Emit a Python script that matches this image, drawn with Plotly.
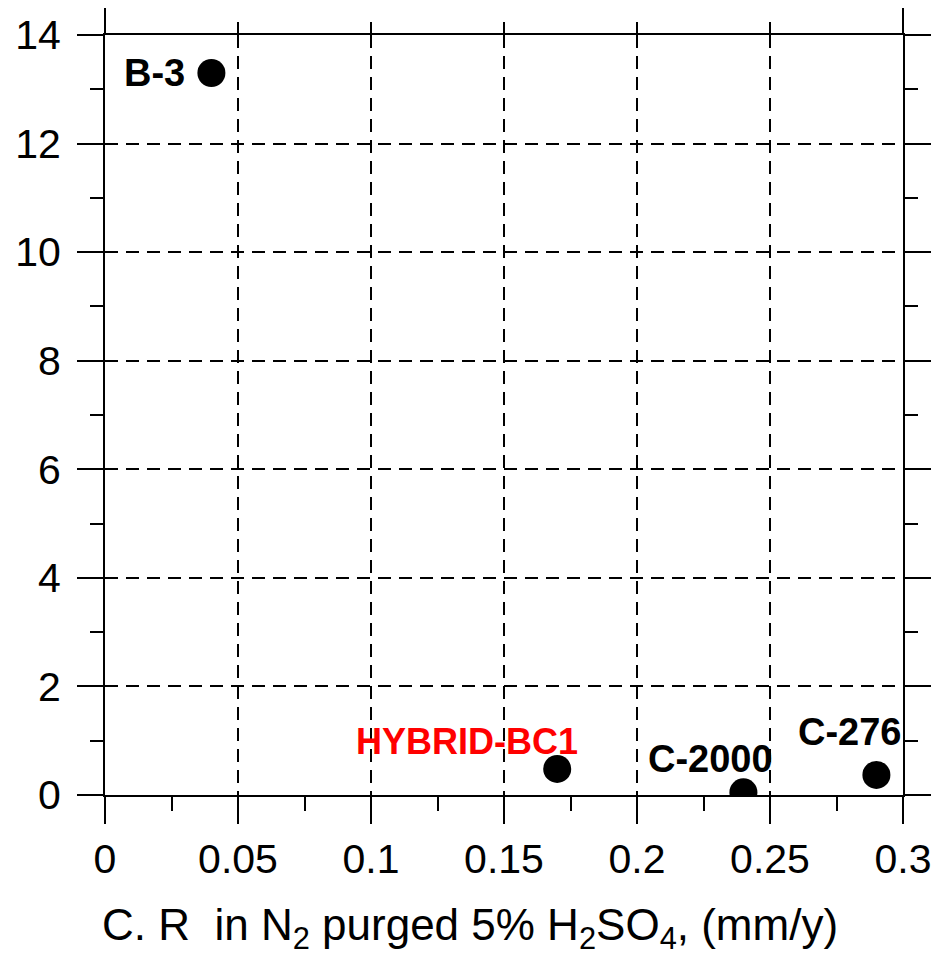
import plotly.graph_objects as go

# ---- data ----
alloys = ["B-3", "HYBRID-BC1", "C-2000", "C-276"]
corrosion_rate_n2 = [0.04, 0.17, 0.24, 0.29]   # x: C.R in N2 purged 5% H2SO4 (mm/y)
y_values = [13.3, 0.48, 0.05, 0.37]
x_tick_vals = [0, 0.05, 0.1, 0.15, 0.2, 0.25, 0.3]
x_tick_text = ["0", "0.05", "0.1", "0.15", "0.2", "0.25", "0.3"]
y_tick_vals = [0, 2, 4, 6, 8, 10, 12, 14]
y_tick_text = ["0", "2", "4", "6", "8", "10", "12", "14"]
x_title = "C. R  in N<sub>2</sub> purged 5% H<sub>2</sub>SO<sub>4</sub>, (mm/y)"

# ---- styles ----
FONT = "Liberation Sans, Arial, sans-serif"
label_style = {
    "B-3":        dict(color="black", size=38, xanchor="right",  xshift=-24, yshift=0),
    "HYBRID-BC1": dict(color="red",   size=36, xanchor="center", xshift=-90, yshift=27),
    "C-2000":     dict(color="black", size=38, xanchor="center", xshift=-33, yshift=33),
    "C-276":      dict(color="black", size=38, xanchor="center", xshift=-26, yshift=43),
}

fig = go.Figure()
fig.add_trace(go.Scatter(
    x=corrosion_rate_n2, y=y_values, mode="markers",
    marker=dict(size=28, color="black"),
    showlegend=False, hoverinfo="skip",
))
# invisible traces to anchor the top tick axes
fig.add_trace(go.Scatter(x=[x_tick_vals[0]], y=[y_tick_vals[0]], xaxis="x2",
                         mode="markers", marker=dict(opacity=0), showlegend=False, hoverinfo="skip"))
fig.add_trace(go.Scatter(x=[x_tick_vals[0]], y=[y_tick_vals[0]], xaxis="x3",
                         mode="markers", marker=dict(opacity=0), showlegend=False, hoverinfo="skip"))

for name, xv, yv in zip(alloys, corrosion_rate_n2, y_values):
    s = label_style[name]
    fig.add_annotation(
        x=xv, y=yv, xref="x", yref="y", text="<b>%s</b>" % name, showarrow=False,
        xanchor=s["xanchor"], yanchor="middle", xshift=s["xshift"], yshift=s["yshift"],
        font=dict(family=FONT, size=s["size"], color=s["color"]),
    )

fig.add_annotation(
    x=0.458, y=-0.175, xref="paper", yref="paper", text=x_title, showarrow=False,
    xanchor="center", yanchor="middle",
    font=dict(family=FONT, size=44, color="black"),
)

grid = dict(showgrid=True, gridcolor="black", gridwidth=1.6, griddash="13px,8px")

fig.update_layout(
    width=951, height=955, autosize=False,
    margin=dict(l=105, r=48, t=35, b=160, pad=0),
    paper_bgcolor="white", plot_bgcolor="white",
    font=dict(family=FONT, size=41, color="black"),
    xaxis=dict(
        range=[0, 0.3], tickvals=x_tick_vals, ticktext=x_tick_text,
        ticks="outside", ticklen=27, tickwidth=2, tickcolor="black",
        showline=True, linewidth=2, linecolor="black", mirror=True,
        minor=dict(dtick=0.025, ticks="outside", ticklen=14, tickwidth=2, tickcolor="black", showgrid=False),
        tickfont=dict(family=FONT, size=41, color="black"),
        ticklabelstandoff=0, zeroline=False, automargin=False, **grid,
    ),
    xaxis2=dict(
        overlaying="x", matches="x", side="top", anchor="y",
        tickvals=x_tick_vals[1:-1], showticklabels=False,
        ticks="outside", ticklen=12, tickwidth=2, tickcolor="black",
        showgrid=False, showline=False, zeroline=False, automargin=False,
    ),
    xaxis3=dict(
        overlaying="x", matches="x", side="top", anchor="y",
        tickvals=[x_tick_vals[0], x_tick_vals[-1]], showticklabels=False,
        ticks="outside", ticklen=26, tickwidth=2, tickcolor="black",
        showgrid=False, showline=False, zeroline=False, automargin=False,
    ),
    yaxis=dict(
        range=[0, 14], tickvals=y_tick_vals, ticktext=y_tick_text,
        ticks="outside", ticklen=26, tickwidth=2, tickcolor="black",
        showline=True, linewidth=2, linecolor="black", mirror="ticks",
        minor=dict(dtick=1, ticks="outside", ticklen=13, tickwidth=2, tickcolor="black", showgrid=False),
        tickfont=dict(family=FONT, size=41, color="black"),
        ticklabelstandoff=8, zeroline=False, automargin=False, **grid,
    ),
)

fig.write_html("out.html")
